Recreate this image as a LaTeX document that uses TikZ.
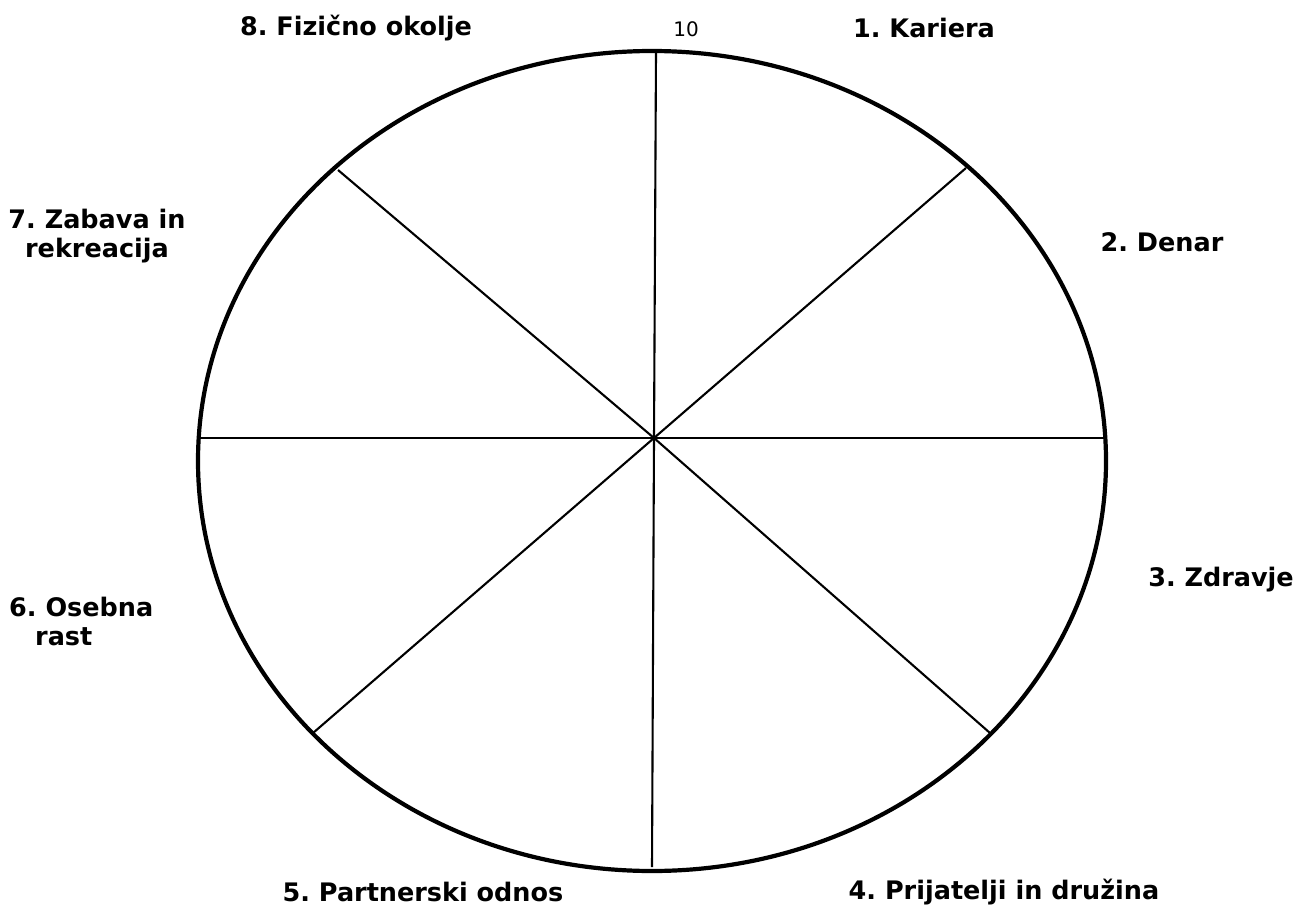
\documentclass[tikz,border=0pt]{standalone}
\usepackage{fontspec}
\setmainfont{DejaVu Sans}
\frenchspacing
\begin{document}
\begin{tikzpicture}[x=1pt,y=-1pt,
  rim/.style={line width=4.2pt},
  spoke/.style={line width=2.1pt},
  lbl/.style={font=\bfseries\fontsize{25.5}{29}\selectfont, inner sep=0pt},
  num/.style={font=\fontsize{20}{22}\selectfont, inner sep=0pt}]
\useasboundingbox (0,0) rectangle (1298,907);
\fill[white] (0,0) rectangle (1298,907);
% rim
\draw[rim] (652,461) ellipse [x radius=454, y radius=410];
% hub and spoke ends
\coordinate (C) at (654,438);
\coordinate (N) at (656,52);
\coordinate (S) at (652,867);
\coordinate (E) at (1106,438);
\coordinate (W) at (199,438);
\coordinate (NE) at (966,168);
\coordinate (NW) at (338,170);
\coordinate (SW) at (313,733);
\coordinate (SE) at (990,733);
\foreach \p in {N,S,E,W,NE,NW,SW,SE} \draw[spoke] (C) -- (\p);
% labels
\node[num] (ten) at (686,29) {10};
\node[lbl] (l1) at (924,28) {1. Kariera};
\node[lbl] (l2) at (1162,242) {2. Denar};
\node[lbl] (l3) at (1221,580) {3. Zdravje};
\node[lbl] (l4) at (1004,892) {4. Prijatelji in družina};
\node[lbl] (l5) at (423,892) {5. Partnerski odnos};
\node[lbl, align=left, anchor=west] (l6) at (9,621) {6. Osebna\\\hspace*{26pt}rast};
\node[lbl, align=center] (l7) at (97,236) {7. Zabava in\\rekreacija};
\node[lbl] (l8) at (356,28) {8. Fizično okolje};
\end{tikzpicture}
\end{document}
